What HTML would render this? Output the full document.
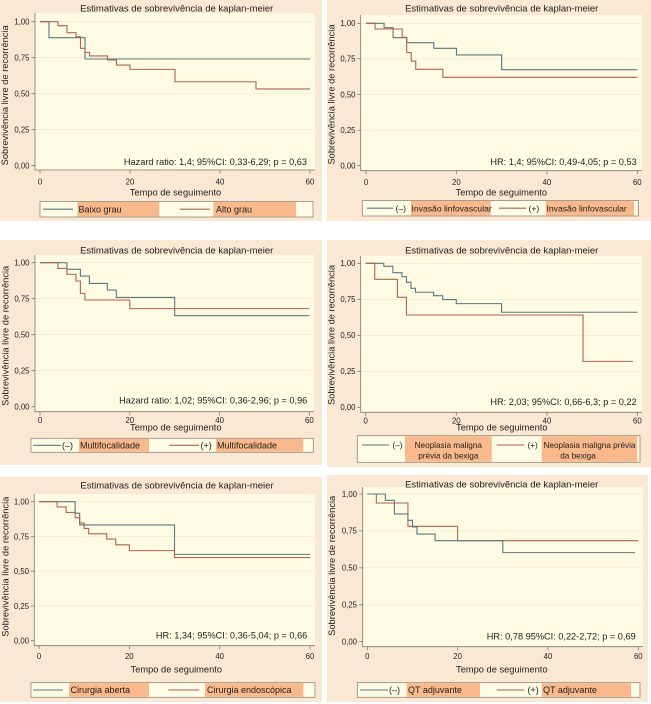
<!DOCTYPE html>
<html>
<head>
<meta charset="utf-8">
<style>
  html,body{margin:0;padding:0;background:#ffffff;}
  svg{display:block;}
  text{font-family:"Liberation Sans",Arial,sans-serif;fill:#1e1e1e;}
  .tt{font-size:9.5px;}
  .tk{font-size:7.8px;}
  .ax{font-size:9.3px;}
  .hz{font-size:9.2px;}
  .lg{font-size:9px;}
  .lg2{font-size:8.6px;}
  .lg4{font-size:8.2px;}
  .pe{fill:#fbe8d2;}
  .pa{fill:#fefbe2;}
  .gr{stroke:#f1ead0;stroke-width:0.7;fill:none;}
  .axl{stroke:#7d7d6f;stroke-width:0.8;fill:none;}
  .b{stroke:#5a7882;stroke-width:1.1;fill:none;}
  .r{stroke:#b26250;stroke-width:1.1;fill:none;}
  .lb{fill:#fefbe4;stroke:#8a8a7e;stroke-width:0.8;}
  .or{fill:#fab98c;}
</style>
</head>
<body>
<svg width="651" height="704" viewBox="0 0 651 704" xmlns="http://www.w3.org/2000/svg">
<rect x="0" y="0" width="651" height="704" fill="#ffffff"/>

<!-- ================= PANEL 1 ================= -->
<rect class="pe" x="0" y="0" width="322" height="221"/>
<rect class="pa" x="35" y="13" width="280" height="157"/>
<path class="gr" d="M35,129.7H315M35,93.7H315M35,57.7H315M35,21.7H315"/>
<g transform="translate(40,165.7) scale(4.5,-144)">
<polyline class="b" vector-effect="non-scaling-stroke" points="0,1 2,1 2,.889 10,.889 10,.741 60,.741"/>
<polyline class="r" vector-effect="non-scaling-stroke" points="0,1 4,1 4,.972 6,.972 6,.924 8,.924 8,.896 9,.896 9,.815 10,.815 10,.787 11,.787 11,.762 15,.762 15,.734 17,.734 17,.699 20,.699 20,.669 30,.669 30,.583 48,.583 48,.533 60,.533"/>
</g>
<path class="axl" d="M35,13V170H315"/>
<path class="axl" d="M31.5,165.7H35M31.5,129.7H35M31.5,93.7H35M31.5,57.7H35M31.5,21.7H35"/>
<path class="axl" d="M40,170V173.5M130,170V173.5M220,170V173.5M310,170V173.5"/>
<g class="tk" text-anchor="end">
<text x="29.5" y="168.5">0,00</text><text x="29.5" y="132.5">0,25</text><text x="29.5" y="96.5">0,50</text><text x="29.5" y="60.5">0,75</text><text x="29.5" y="24.5">1,00</text>
</g>
<g class="tk" text-anchor="middle">
<text x="40" y="184.5">0</text><text x="130" y="184.5">20</text><text x="220" y="184.5">40</text><text x="310" y="184.5">60</text>
</g>
<text class="tt" x="176.7" y="11.5" text-anchor="middle">Estimativas de sobrevivência de kaplan-meier</text>
<text class="ax" transform="translate(8,95.3) rotate(-90)" text-anchor="middle">Sobrevivência livre de recorrência</text>
<text class="ax" x="175.5" y="195.5" text-anchor="middle">Tempo de seguimento</text>
<text class="hz" x="307" y="165" text-anchor="end">Hazard ratio: 1,4; 95%CI: 0,33-6,29; p = 0,63</text>
<rect class="lb" x="40" y="201.5" width="273" height="15.5"/>
<rect class="or" x="77.3" y="202" width="82" height="14.5"/>
<rect class="or" x="213.3" y="202" width="82.7" height="14.5"/>
<line class="b" x1="43" y1="209.2" x2="73" y2="209.2"/>
<line class="r" x1="180" y1="209.2" x2="210" y2="209.2"/>
<text class="lg" x="78.5" y="212.4">Baixo grau</text>
<text class="lg" x="216" y="212.4">Alto grau</text>

<!-- ================= PANEL 2 ================= -->
<rect class="pe" x="327" y="0" width="324" height="221"/>
<rect class="pa" x="360.7" y="15" width="281.3" height="155.7"/>
<path class="gr" d="M360.7,130.1H642M360.7,94.5H642M360.7,58.9H642M360.7,23.3H642"/>
<g transform="translate(366,165.7) scale(4.522,-142.4)">
<polyline class="b" vector-effect="non-scaling-stroke" points="0,1 4,1 4,.969 6,.969 6,.899 9,.899 9,.864 15,.864 15,.824 20,.824 20,.778 30,.778 30,.674 60,.674"/>
<polyline class="r" vector-effect="non-scaling-stroke" points="0,1 2,1 2,.96 8,.96 8,.902 9,.902 9,.794 10,.794 10,.735 11,.735 11,.677 17,.677 17,.621 60,.621"/>
</g>
<path class="axl" d="M360.7,15V170.7H642"/>
<path class="axl" d="M357.2,165.7H360.7M357.2,130.1H360.7M357.2,94.5H360.7M357.2,58.9H360.7M357.2,23.3H360.7"/>
<path class="axl" d="M366,170.7V174.2M456.4,170.7V174.2M546.9,170.7V174.2M637.3,170.7V174.2"/>
<g class="tk" text-anchor="end">
<text x="355.5" y="168.5">0,00</text><text x="355.5" y="132.9">0,25</text><text x="355.5" y="97.3">0,50</text><text x="355.5" y="61.7">0,75</text><text x="355.5" y="26.1">1,00</text>
</g>
<g class="tk" text-anchor="middle">
<text x="366" y="185">0</text><text x="456.4" y="185">20</text><text x="546.9" y="185">40</text><text x="637.3" y="185">60</text>
</g>
<text class="tt" x="501.7" y="11.5" text-anchor="middle">Estimativas de sobrevivência de kaplan-meier</text>
<text class="ax" transform="translate(334.5,94.5) rotate(-90)" text-anchor="middle">Sobrevivência livre de recorrência</text>
<text class="ax" x="501.3" y="195.5" text-anchor="middle">Tempo de seguimento</text>
<text class="hz" x="636.7" y="165" text-anchor="end">HR: 1,4; 95%CI: 0,49-4,05; p = 0,53</text>
<rect class="lb" x="362.3" y="200.5" width="276" height="15.5"/>
<rect class="or" x="411" y="201" width="79.7" height="14.5"/>
<rect class="or" x="545.7" y="201" width="88.3" height="14.5"/>
<line class="b" x1="367" y1="208.2" x2="393" y2="208.2"/>
<line class="r" x1="499" y1="208.2" x2="526" y2="208.2"/>
<text class="lg2" x="395.5" y="211.3">(–)</text>
<text class="lg2" x="411.5" y="211.3">Invasão linfovascular</text>
<text class="lg2" x="528.5" y="211.3">(+)</text>
<text class="lg2" x="546.5" y="211.3">Invasão linfovascular</text>

<!-- ================= PANEL 3 ================= -->
<rect class="pe" x="0" y="240" width="322" height="225"/>
<rect class="pa" x="35" y="255" width="279" height="156.7"/>
<path class="gr" d="M35,370.7H314M35,334.7H314M35,298.7H314M35,262.7H314"/>
<g transform="translate(40,406.7) scale(4.49,-144)">
<polyline class="b" vector-effect="non-scaling-stroke" points="0,1 6,1 6,.954 9,.954 9,.907 11,.907 11,.856 15,.856 15,.81 17,.81 17,.759 30,.759 30,.632 60,.632"/>
<polyline class="r" vector-effect="non-scaling-stroke" points="0,1 4,1 4,.96 6,.96 6,.919 8,.919 8,.873 9,.873 9,.787 10,.787 10,.741 20,.741 20,.681 60,.681"/>
</g>
<path class="axl" d="M35,255V411.7H314"/>
<path class="axl" d="M31.5,406.7H35M31.5,370.7H35M31.5,334.7H35M31.5,298.7H35M31.5,262.7H35"/>
<path class="axl" d="M40,411.7V415.2M129.8,411.7V415.2M219.6,411.7V415.2M309.4,411.7V415.2"/>
<g class="tk" text-anchor="end">
<text x="29.5" y="409.5">0,00</text><text x="29.5" y="373.5">0,25</text><text x="29.5" y="337.5">0,50</text><text x="29.5" y="301.5">0,75</text><text x="29.5" y="265.5">1,00</text>
</g>
<g class="tk" text-anchor="middle">
<text x="40" y="423">0</text><text x="129.8" y="423">20</text><text x="219.6" y="423">40</text><text x="309.4" y="423">60</text>
</g>
<text class="tt" x="176.7" y="253.5" text-anchor="middle">Estimativas de sobrevivência de kaplan-meier</text>
<text class="ax" transform="translate(8.5,335.8) rotate(-90)" text-anchor="middle">Sobrevivência livre de recorrência</text>
<text class="ax" x="175.8" y="430.7" text-anchor="middle">Tempo de seguimento</text>
<text class="hz" x="307.3" y="403.3" text-anchor="end">Hazard ratio: 1,02; 95%CI: 0,36-2,96; p = 0,96</text>
<rect class="lb" x="31" y="438.3" width="282.3" height="14"/>
<rect class="or" x="79" y="438.8" width="70" height="13"/>
<rect class="or" x="216" y="438.8" width="87.3" height="13"/>
<line class="b" x1="33.3" y1="445.3" x2="61" y2="445.3"/>
<line class="r" x1="169.3" y1="445.3" x2="199" y2="445.3"/>
<text class="lg" x="62" y="448.5">(–)</text>
<text class="lg" x="80" y="448.5">Multifocalidade</text>
<text class="lg" x="200.5" y="448.5">(+)</text>
<text class="lg" x="217" y="448.5">Multifocalidade</text>

<!-- ================= PANEL 4 ================= -->
<rect class="pe" x="327" y="240" width="324" height="227"/>
<rect class="pa" x="360.7" y="256" width="281.3" height="156.3"/>
<path class="gr" d="M360.7,371.3H642M360.7,335.3H642M360.7,299.3H642M360.7,263.3H642"/>
<g transform="translate(365.7,407.3) scale(4.528,-144)">
<polyline class="b" vector-effect="non-scaling-stroke" points="0,1 4,1 4,.979 6,.979 6,.935 8,.935 8,.907 9,.907 9,.868 10,.868 10,.826 11,.826 11,.799 15,.799 15,.775 17,.775 17,.748 20,.748 20,.72 30,.72 30,.66 60,.66"/>
<polyline class="r" vector-effect="non-scaling-stroke" points="0,1 2,1 2,.889 7,.889 7,.764 9,.764 9,.641 48,.641 48,.319 59,.319"/>
</g>
<path class="axl" d="M360.7,256V412.3H642"/>
<path class="axl" d="M357.2,407.3H360.7M357.2,371.3H360.7M357.2,335.3H360.7M357.2,299.3H360.7M357.2,263.3H360.7"/>
<path class="axl" d="M365.7,412.3V415.8M456.3,412.3V415.8M546.9,412.3V415.8M637.4,412.3V415.8"/>
<g class="tk" text-anchor="end">
<text x="355.5" y="410.1">0,00</text><text x="355.5" y="374.1">0,25</text><text x="355.5" y="338.1">0,50</text><text x="355.5" y="302.1">0,75</text><text x="355.5" y="266.1">1,00</text>
</g>
<g class="tk" text-anchor="middle">
<text x="365.7" y="423.3">0</text><text x="456.3" y="423.3">20</text><text x="546.9" y="423.3">40</text><text x="637.4" y="423.3">60</text>
</g>
<text class="tt" x="501.7" y="253.5" text-anchor="middle">Estimativas de sobrevivência de kaplan-meier</text>
<text class="ax" transform="translate(334.5,335) rotate(-90)" text-anchor="middle">Sobrevivência livre de recorrência</text>
<text class="ax" x="501.8" y="430.7" text-anchor="middle">Tempo de seguimento</text>
<text class="hz" x="636.7" y="405" text-anchor="end">HR: 2,03; 95%CI: 0,66-6,3; p = 0,22</text>
<rect class="lb" x="357.3" y="435.7" width="282.7" height="26.6"/>
<rect class="or" x="405" y="436.2" width="86.7" height="25.6"/>
<rect class="or" x="541.7" y="436.2" width="95.6" height="25.6"/>
<line class="b" x1="362" y1="445" x2="389" y2="445"/>
<line class="r" x1="496.7" y1="445" x2="524.3" y2="445"/>
<text class="lg4" x="392.5" y="448">(–)</text>
<text class="lg4" x="448.3" y="448" text-anchor="middle">Neoplasia maligna</text>
<text class="lg4" x="448.3" y="458.3" text-anchor="middle">prévia da bexiga</text>
<text class="lg4" x="527.5" y="448">(+)</text>
<text class="lg4" x="589.5" y="448" text-anchor="middle">Neoplasia maligna prévia</text>
<text class="lg4" x="578" y="458.3" text-anchor="middle">da bexiga</text>

<!-- ================= PANEL 5 ================= -->
<rect class="pe" x="0" y="477" width="322" height="225"/>
<rect class="pa" x="34.3" y="494" width="280.7" height="151.7"/>
<path class="gr" d="M34.3,606H315M34.3,571.2H315M34.3,536.5H315M34.3,501.7H315"/>
<g transform="translate(39,640.7) scale(4.517,-139)">
<polyline class="b" vector-effect="non-scaling-stroke" points="0,1 8,1 8,.917 9,.917 9,.833 30,.833 30,.621 60,.621"/>
<polyline class="r" vector-effect="non-scaling-stroke" points="0,1 4,1 4,.962 6,.962 6,.923 8,.923 8,.885 9,.885 9,.846 10,.846 10,.808 11,.808 11,.769 15,.769 15,.731 17,.731 17,.69 20,.69 20,.648 30,.648 30,.598 60,.598"/>
</g>
<path class="axl" d="M34.3,494V645.7H315"/>
<path class="axl" d="M30.8,640.7H34.3M30.8,606H34.3M30.8,571.2H34.3M30.8,536.5H34.3M30.8,501.7H34.3"/>
<path class="axl" d="M39,645.7V649.2M129.3,645.7V649.2M219.7,645.7V649.2M310,645.7V649.2"/>
<g class="tk" text-anchor="end">
<text x="29" y="643.5">0,00</text><text x="29" y="608.8">0,25</text><text x="29" y="574">0,50</text><text x="29" y="539.3">0,75</text><text x="29" y="504.5">1,00</text>
</g>
<g class="tk" text-anchor="middle">
<text x="39" y="659">0</text><text x="129.3" y="659">20</text><text x="219.7" y="659">40</text><text x="310" y="659">60</text>
</g>
<text class="tt" x="177" y="488.5" text-anchor="middle">Estimativas de sobrevivência de kaplan-meier</text>
<text class="ax" transform="translate(8.5,566.7) rotate(-90)" text-anchor="middle">Sobrevivência livre de recorrência</text>
<text class="ax" x="176.3" y="672.7" text-anchor="middle">Tempo de seguimento</text>
<text class="hz" x="307.3" y="638.3" text-anchor="end">HR: 1,34; 95%CI: 0,36-5,04; p = 0,66</text>
<rect class="lb" x="31" y="682.7" width="284" height="14.6"/>
<rect class="or" x="69" y="683.2" width="80" height="13.6"/>
<rect class="or" x="205" y="683.2" width="98.3" height="13.6"/>
<line class="b" x1="33" y1="690" x2="63" y2="690"/>
<line class="r" x1="168.3" y1="690" x2="199.3" y2="690"/>
<text class="lg" x="70.5" y="693.2">Cirurgia aberta</text>
<text class="lg" x="207" y="693.2">Cirurgia endoscópica</text>

<!-- ================= PANEL 6 ================= -->
<rect class="pe" x="327" y="475" width="321" height="227"/>
<rect class="pa" x="362.7" y="487" width="280.3" height="159.7"/>
<path class="gr" d="M362.7,604.8H643M362.7,567.9H643M362.7,530.9H643M362.7,494H643"/>
<g transform="translate(367.3,641.7) scale(4.517,-147.7)">
<polyline class="r" vector-effect="non-scaling-stroke" points="0,1 2,1 2,.939 9,.939 9,.781 20,.781 20,.684 60,.684"/>
<polyline class="b" vector-effect="non-scaling-stroke" points="0,1 4,1 4,.957 6,.957 6,.865 9,.865 9,.822 10,.822 10,.777 11,.777 11,.729 15,.729 15,.684 30,.684 30,.603 59.3,.603"/>
</g>
<path class="axl" d="M362.7,487V646.7H643"/>
<path class="axl" d="M359.2,641.7H362.7M359.2,604.8H362.7M359.2,567.9H362.7M359.2,530.9H362.7M359.2,494H362.7"/>
<path class="axl" d="M367.3,646.7V650.2M457.6,646.7V650.2M548,646.7V650.2M638.3,646.7V650.2"/>
<g class="tk" text-anchor="end">
<text x="357" y="644.5">0,00</text><text x="357" y="607.6">0,25</text><text x="357" y="570.7">0,50</text><text x="357" y="533.7">0,75</text><text x="357" y="496.8">1,00</text>
</g>
<g class="tk" text-anchor="middle">
<text x="367.3" y="659">0</text><text x="457.6" y="659">20</text><text x="548" y="659">40</text><text x="638.3" y="659">60</text>
</g>
<text class="tt" x="501.7" y="487.5" text-anchor="middle">Estimativas de sobrevivência de kaplan-meier</text>
<text class="ax" transform="translate(335,565.8) rotate(-90)" text-anchor="middle">Sobrevivência livre de recorrência</text>
<text class="ax" x="501.8" y="672.7" text-anchor="middle">Tempo de seguimento</text>
<text class="hz" x="635.7" y="639.3" text-anchor="end">HR: 0,78 95%CI: 0,22-2,72; p = 0,69</text>
<rect class="lb" x="357.3" y="682.7" width="282.7" height="14.6"/>
<rect class="or" x="406.7" y="683.2" width="73.3" height="13.6"/>
<rect class="or" x="541.7" y="683.2" width="89.3" height="13.6"/>
<line class="b" x1="360" y1="690" x2="388" y2="690"/>
<line class="r" x1="496.7" y1="690" x2="524.3" y2="690"/>
<text class="lg" x="389" y="693.2">(–)</text>
<text class="lg" x="408" y="693.2">QT adjuvante</text>
<text class="lg" x="527.5" y="693.2">(+)</text>
<text class="lg" x="543" y="693.2">QT adjuvante</text>
</svg>
</body>
</html>
